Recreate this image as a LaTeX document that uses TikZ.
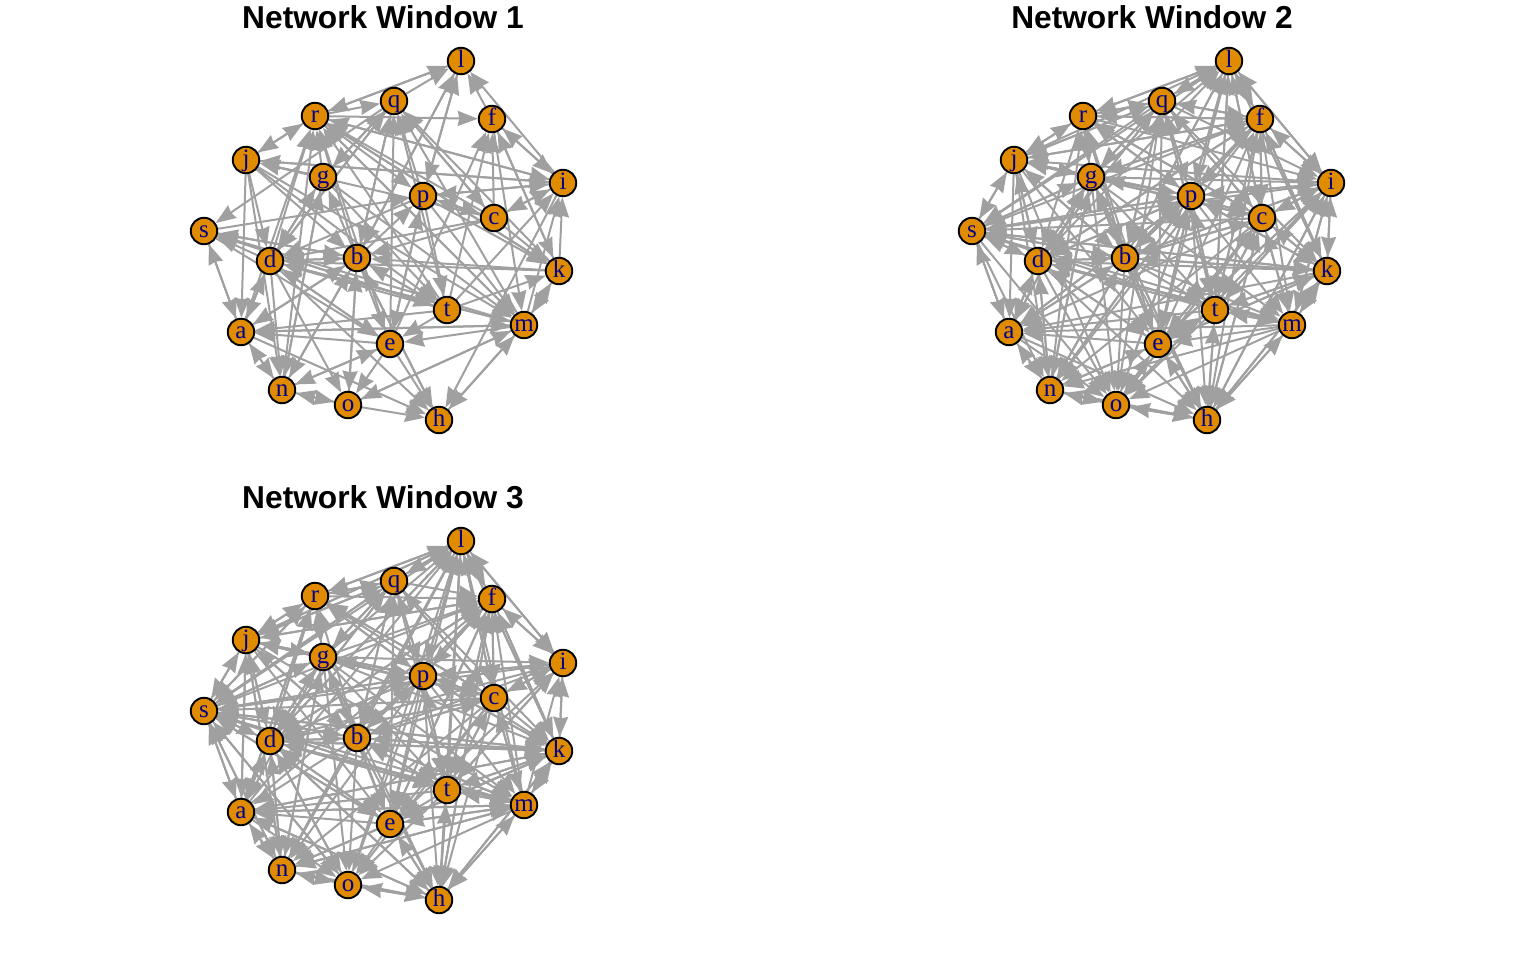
\documentclass[tikz,border=0pt]{standalone}
\usepackage{fontspec}
\setmainfont{Liberation Serif}
\newfontfamily\titlefont{Liberation Sans}
\usetikzlibrary{arrows.meta}
\definecolor{vertexfill}{HTML}{E08B00}
\definecolor{edgegray}{HTML}{A0A0A0}
\definecolor{labelblue}{HTML}{00008B}
\tikzset{%
	vertex/.style = { circle, draw=black, line width=1.9pt, fill=vertexfill, text=labelblue, minimum size=26.5pt, inner sep=0pt, text height=13pt, text depth=0pt, font=\fontsize{25}{25}\selectfont },
	edge/.style = { draw=edgegray, line width=2pt, -{Stealth[length=20pt,width=15pt,inset=1.5pt]} },
	plottitle/.style = { font=\titlefont\bfseries\fontsize{31.7}{32}\selectfont, text=black, inner sep=0pt }
}
\pgfdeclarelayer{background}
\pgfsetlayers{background,main}
\newcommand{\windowedges}[2]{%
	\foreach \tgt/\srcs in {#2} {
		\foreach \src in \srcs {
			\draw [edge] (\src#1) -- (\tgt#1);
		}
	}
}
\begin{document}
\begin{tikzpicture}[x=1pt,y=-1pt]
\useasboundingbox (0,0) rectangle (1536,960);

% vertices of all three windows share one layout
\foreach \win/\dx/\dy in {1/0/0, 2/768/0, 3/0/480} {
	\foreach \name/\x/\y in {l/461/61, q/394/101, r/315/116, f/492/119, j/246/160, g/323/177, p/423/196,
		i/563/183, c/494/218, s/204/231, d/270/261, b/357/258, k/559/271, t/447/310,
		a/241/332, m/524/325, e/390/344, n/282/390, o/348/405, h/439/420} {
		\node (\name\win) [vertex] at (\x+\dx,\y+\dy) {\name};
	}
}

\node (Title1) [plottitle] at (383,17) {Network Window 1};
\node (Title2) [plottitle] at (1152,17) {Network Window 2};
\node (Title3) [plottitle] at (383,497) {Network Window 3};

\begin{pgfonlayer}{background}
% window 1
\windowedges{1}{l/{r,p,f,i,b,q}, q/{r,g,d,m,b,p,t,e,c,k}, r/{l,j,d,n,g,b,e,t,m,a,c,i,k},
	f/{r,i,k,c,t,e}, j/{r,g,i,c}, g/{q,d,b,n}, p/{l,r,c,i,e,b,s},
	i/{r,f,j,p,c,k,t,m}, c/{q,p,i}, s/{q,a,d,b,m,t},
	d/{g,q,j,b,p,c,k,t,m,a,e}, b/{j,s,d,a,q,l,c,k,t,n,o,h},
	k/{p,c,f,r,t,m}, t/{j,g,p,b,s}, m/{r,g,p,f,k,o,a,d,h,j},
	e/{t,m,b,d,s,n,p}, a/{s,d,j,n,t,e,m,b}, n/{a,o,e,b,g,d,j},
	o/{n,d,b,e,m}, h/{o,e,b,a,m,d,i}}
% window 2
\windowedges{2}{l/{r,q,f,i,g,p,b,c,t,j,s,d,k}, q/{r,l,g,p,b,f,d,c,e,t,j},
	r/{l,q,g,j,b,e,p,f,c,n}, f/{l,r,q,p,c,i,g,s,j,d,k,b,t,e},
	j/{s,r,g,q,p,b,d,i,c,f}, g/{r,q,f,p,d,s,j,n,a,e,b,h},
	p/{l,q,r,g,j,s,f,c,i,k,b,d,e,a,n,o,t}, i/{l,f,q,r,g,p,c,k,t,m,e,b,h},
	c/{l,f,q,p,r,g,i,k,t,m,h,b,o,e}, s/{a,j,g,d,b,p,q,c,i,k,t},
	d/{s,j,g,r,q,p,b,a,n,f,t,e,k,m}, b/{d,j,g,r,q,s,f,l,p,c,i,k,n,a},
	k/{i,f,p,c,l,q,m,t,b,s,h,e}, t/{p,f,c,q,h,b,g,k,m,i,e,l},
	m/{c,k,i,t,p,h,g,b,d,f,s}, e/{b,t,c,p,m,h,g,d,j,i,k,n,o,l},
	a/{s,d,n,j,g,b,e,t,m,c,p,k}, n/{a,d,o,g,e,b,p,c,s,j,m,f},
	o/{n,d,e,t,b,g,a,s,j,h,p,m,i,c,q}, h/{o,e,t,m,b,d,a,p,n,k,c,f,i,g}}
% window 3
\windowedges{3}{l/{q,f,r,g,j,s,p,b,c,d,e,t,a,n,i,k,o,m}, q/{r,l,g,j,s,d,b,p,c,e},
	r/{q,l,s,j,g,d,b,p,k,c,a}, f/{l,i,q,r,g,j,s,p,d,c,b,t,e,m,k,a,h},
	j/{s,r,g,d,q,a,n,b,p,l,c,f}, g/{r,j,d,q,p,s,b,n},
	p/{l,q,g,f,s,j,r,d,c,i,b,k,t}, i/{f,l,k,p,c,t,m,g,e},
	c/{f,l,q,p,g,r,j,i,m,t,b,d}, s/{j,a,d,g,b,p,q,n,o,c,k,i,e,t,m,r},
	d/{s,j,r,g,q,p,c,b,l,f,k,t,m,e,i,h,o,n,a}, b/{s,g,j,d,q,f,l,c,p,k,i,t,m},
	k/{f,l,i,c,p,q,b,t,m,e,a,d,s,h,g}, t/{p,l,c,b,g,f,d,q,k,h,s,m,i},
	m/{t,c,k,h,e,p,a,d,b,g,n,j}, e/{t,b,m,k,c,p,d,g,s,j,f,h},
	a/{s,j,d,g,n,e,m,t,r,b,k,h}, n/{a,d,g,j,s,o,b,p,c,e,m,k},
	o/{n,h,e,d,s,a,b,p,t,m,g,c}, h/{o,e,t,b,m,d,a,n,p,k,c,f,g,l}}
\end{pgfonlayer}
\end{tikzpicture}
\end{document}
